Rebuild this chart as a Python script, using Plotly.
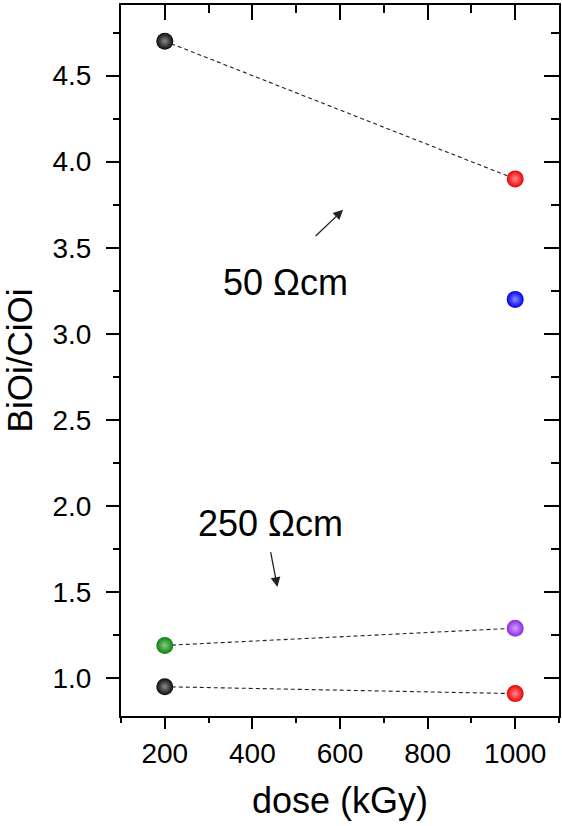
import plotly.graph_objects as go

# Dose points (kGy) and BiOi/CiOi ratios for each wafer series
dose = [200, 1000]

ratio_50_a = [4.70, 3.90]     # 50 Ωcm, connected pair
ratio_50_b = [3.20]           # 50 Ωcm, 1000 kGy only
dose_50_b = [1000]
ratio_250_a = [1.19, 1.29]    # 250 Ωcm, upper pair
ratio_250_b = [0.95, 0.91]    # 250 Ωcm, lower pair

colors_50_a = ["#0a0a0a", "#ee0000"]
colors_50_b = ["#0000ee"]
colors_250_a = ["#107f10", "#8a2be2"]
colors_250_b = ["#0a0a0a", "#ee0000"]

highlight_50_a = ["#8a8a8a", "#ff8a8a"]
highlight_50_b = ["#8a8aff"]
highlight_250_a = ["#80d080", "#d0a0ff"]
highlight_250_b = ["#8a8a8a", "#ff8a8a"]

x_ticks = [200, 400, 600, 800, 1000]
y_ticks = [1.0, 1.5, 2.0, 2.5, 3.0, 3.5, 4.0, 4.5]

FONT = "Liberation Sans, Arial, sans-serif"

fig = go.Figure()


def add_series(xs, ys, colors, highlights, connect):
    if connect:
        fig.add_trace(go.Scatter(
            x=xs, y=ys, mode="lines",
            line=dict(color="#222222", width=1.1, dash="4px,3px"),
            showlegend=False, hoverinfo="skip"))
    fig.add_trace(go.Scatter(
        x=xs, y=ys, mode="markers",
        marker=dict(size=17, color=colors,
                    gradient=dict(type="radial", color=highlights),
                    line=dict(width=0)),
        showlegend=False))


add_series(dose, ratio_50_a, colors_50_a, highlight_50_a, True)
add_series(dose_50_b, ratio_50_b, colors_50_b, highlight_50_b, False)
add_series(dose, ratio_250_a, colors_250_a, highlight_250_a, True)
add_series(dose, ratio_250_b, colors_250_b, highlight_250_b, True)

# Empty trace that anchors the mirrored top/right axes
fig.add_trace(go.Scatter(x=[], y=[], xaxis="x2", yaxis="y2",
                         showlegend=False, hoverinfo="skip"))

x_range = [100, 1100]
y_range = [0.78, 4.91]

fig.update_layout(
    width=562, height=826,
    margin=dict(l=121, r=3, t=5, b=110),
    plot_bgcolor="white", paper_bgcolor="white",
    font=dict(family=FONT, color="black"),
    xaxis=dict(
        range=x_range, tickvals=x_ticks, ticks="outside", ticklen=11,
        tickwidth=2, tickcolor="black", showline=True, linewidth=2,
        linecolor="black", showgrid=False, zeroline=False,
        tickfont=dict(size=28, family=FONT),
        minor=dict(dtick=100, tick0=100, ticks="outside", ticklen=5,
                   tickwidth=2, tickcolor="black", showgrid=False),
        title=dict(text="dose (kGy)", font=dict(size=36, family=FONT),
                   standoff=20),
    ),
    yaxis=dict(
        range=y_range, tickvals=y_ticks, ticktext=[f"{v:.1f}" for v in y_ticks],
        ticks="outside", ticklen=13, tickwidth=2, tickcolor="black",
        showline=True, linewidth=2, linecolor="black", showgrid=False,
        zeroline=False, tickfont=dict(size=28, family=FONT),
        ticklabelstandoff=9,
        minor=dict(dtick=0.25, tick0=0.75, ticks="outside", ticklen=6,
                   tickwidth=2, tickcolor="black", showgrid=False),
        title=dict(text="BiOi/CiOi", font=dict(size=35, family=FONT),
                   standoff=10),
    ),
    xaxis2=dict(
        range=x_range, overlaying="x", side="top", anchor="y2",
        tickvals=x_ticks, ticks="inside", ticklen=15, tickwidth=2,
        tickcolor="black", showticklabels=False, showline=True,
        linewidth=2, linecolor="black", showgrid=False, zeroline=False,
        minor=dict(dtick=100, tick0=100, ticks="inside", ticklen=8,
                   tickwidth=2, tickcolor="black", showgrid=False),
    ),
    yaxis2=dict(
        range=y_range, overlaying="y", side="right", anchor="x2",
        tickvals=y_ticks, ticks="inside", ticklen=15, tickwidth=2,
        tickcolor="black", showticklabels=False, showline=True,
        linewidth=2, linecolor="black", showgrid=False, zeroline=False,
        minor=dict(dtick=0.25, tick0=0.75, ticks="inside", ticklen=8,
                   tickwidth=2, tickcolor="black", showgrid=False),
    ),
)

# Resistivity labels with arrows pointing at their groups
fig.add_annotation(x=607, y=3.72, ax=541, ay=3.56, xref="x", yref="y",
                   axref="x", ayref="y", text="", showarrow=True,
                   arrowhead=2, arrowsize=1.5, arrowwidth=1.3,
                   arrowcolor="#222222")
fig.add_annotation(x=475, y=3.30, xref="x", yref="y", text="50 Ωcm",
                   showarrow=False, font=dict(size=36, family=FONT))
fig.add_annotation(x=457, y=1.53, ax=441, ay=1.74, xref="x", yref="y",
                   axref="x", ayref="y", text="", showarrow=True,
                   arrowhead=2, arrowsize=1.5, arrowwidth=1.3,
                   arrowcolor="#222222")
fig.add_annotation(x=441, y=1.90, xref="x", yref="y", text="250 Ωcm",
                   showarrow=False, font=dict(size=36, family=FONT))

fig.write_html("out.html")
